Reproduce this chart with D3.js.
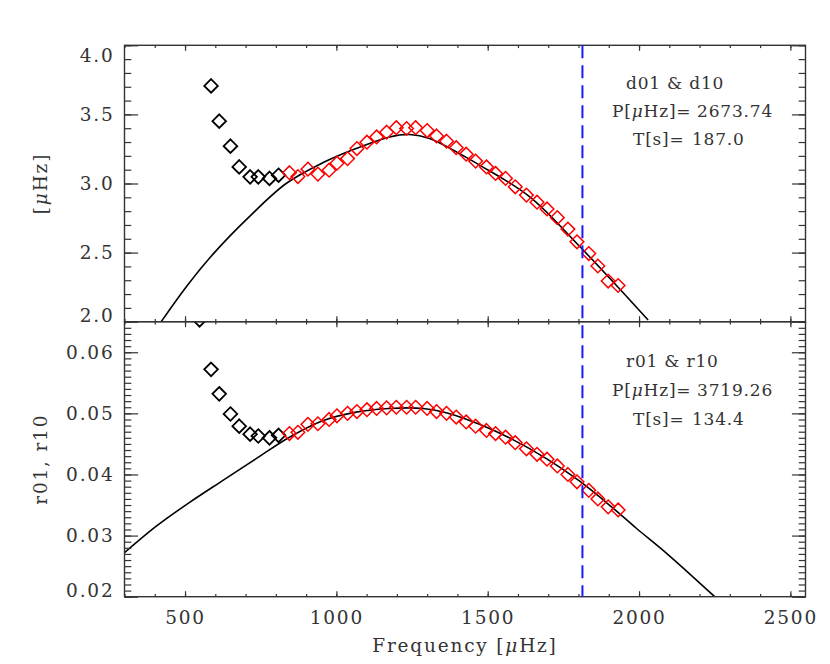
<!DOCTYPE html>
<html>
<head>
<meta charset="utf-8">
<script src="https://cdn.jsdelivr.net/npm/d3@7"></script>
<style>
  body { margin: 0; background: #fff; }
  text { font-family: "DejaVu Serif", serif; fill: #333; font-size: 18.5px; letter-spacing: 1.8px; }
  text.stat { font-size: 17px; letter-spacing: 0.8px; }
</style>
</head>
<body>
<div class="chart"></div>
<script>
// ---- data ----
// low-frequency points (black), shared by both panels
const blackFreq = [548, 586, 613, 650, 679, 715, 742, 779, 809];
const blackD = [null, 3.706, 3.451, 3.270, 3.120, 3.048, 3.048, 3.037, 3.060];
const blackR = [0.0653, 0.0572, 0.0532, 0.0499, 0.0479, 0.0466, 0.0463, 0.0460, 0.0464];

// fitted points (red)
const redFreq = [845, 873, 906, 939, 976, 1002, 1037, 1068, 1101, 1133, 1166, 1198, 1232, 1262, 1300, 1331, 1364,
  1396, 1429, 1460, 1496, 1526, 1559, 1591, 1628, 1663, 1696, 1730, 1765, 1795, 1834, 1864, 1898, 1931];
const redD = [3.078, 3.050, 3.104, 3.068, 3.096, 3.147, 3.180, 3.253, 3.299, 3.337, 3.371, 3.404, 3.398, 3.404,
  3.383, 3.344, 3.306, 3.259, 3.212, 3.162, 3.120, 3.073, 3.037, 2.976, 2.916, 2.865, 2.816, 2.753, 2.670, 2.578,
  2.493, 2.403, 2.294, 2.262];
const redR = [0.0467, 0.0469, 0.0482, 0.0483, 0.0490, 0.0496, 0.0500, 0.0503, 0.0506, 0.0508, 0.0509, 0.0510,
  0.0510, 0.0510, 0.0508, 0.0503, 0.0500, 0.0494, 0.0486, 0.0479, 0.0472, 0.0467, 0.0461, 0.0452, 0.0442, 0.0433,
  0.0425, 0.0414, 0.0400, 0.0388, 0.0374, 0.0360, 0.0347, 0.0342];

// fit curves (read at a few frequencies)
const fitFreqD = [421, 510, 597, 710, 834, 955, 1065, 1176, 1242, 1308, 1473, 1639, 1805, 1914, 2030];
const fitD = [2.0, 2.27, 2.5, 2.755, 3.0, 3.15, 3.253, 3.337, 3.355, 3.326, 3.133, 2.904, 2.542, 2.289, 2.012];
const fitFreqR = [300, 404, 514, 624, 735, 845, 955, 1065, 1176, 1286, 1363, 1473, 1583, 1694, 1804, 1914, 1991, 2091, 2250];
const fitR = [0.0272, 0.0315, 0.0354, 0.0390, 0.0426, 0.0461, 0.0488, 0.0502, 0.0508, 0.0508, 0.0501, 0.0482,
  0.0457, 0.0426, 0.0389, 0.0345, 0.0312, 0.0271, 0.0200];

const cutFreq = 1813;

const xTicks = [500, 1000, 1500, 2000, 2500];
const dTicks = [2.0, 2.5, 3.0, 3.5, 4.0];
const rTicks = [0.02, 0.03, 0.04, 0.05, 0.06];

const statNames = ["d01 & d10", "r01 & r10"];
const periods = ["2673.74", "3719.26"];
const taus = ["187.0", "134.4"];

// ---- layout ----
const width = 830, height = 664;
const left = 124.5, right = 805.5;
const panels = [
  { top: 45.3, bottom: 321.7, domain: [2.0, 4.0], ticks: dTicks, minorStep: 0.1, fmt: d3.format(".1f"),
    bf: blackD, rf: redD, fx: fitFreqD, fy: fitD, ylab: "[μHz]", stat: 0, textY: [89, 117, 145] },
  { top: 321.7, bottom: 596.7, domain: [0.02, 0.065], ticks: rTicks, minorStep: 0.001, fmt: d3.format(".2f"),
    bf: blackR, rf: redR, fx: fitFreqR, fy: fitR, ylab: "r01, r10", stat: 1, textY: [367, 396, 425] }
];

const svg = d3.select(".chart").append("svg").attr("width", width).attr("height", height);

const x = d3.scaleLinear().domain([300, 2550]).range([left, right]);
const xMinor = d3.range(300, 2551, 100);

// writes text with an italic mu
function richText(sel, str) {
  str.split(/(μ)/).forEach((part) => {
    if (!part) return;
    const t = sel.append("tspan").text(part);
    if (part === "μ") t.style("font-style", "italic");
  });
}

const diamond = d3.symbol().type(d3.symbolDiamond2).size(118);

panels.forEach((p, i) => {
  const y = d3.scaleLinear().domain(p.domain).range([p.bottom, p.top]);
  const ph = p.bottom - p.top;
  const pw = right - left;
  const yMinor = d3.range(p.domain[0], p.domain[1] + p.minorStep / 2, p.minorStep);

  const g = svg.append("g");

  const clipId = "clip" + i;
  svg.append("clipPath").attr("id", clipId)
    .append("rect").attr("x", left).attr("y", p.top).attr("width", pw).attr("height", ph);

  const plot = g.append("g").attr("clip-path", `url(#${clipId})`);

  // fit curve
  const line = d3.line().x((d) => x(d[0])).y((d) => y(d[1])).curve(d3.curveCatmullRom.alpha(0.5));
  plot.append("path")
    .datum(d3.zip(p.fx, p.fy))
    .attr("d", line)
    .attr("fill", "none")
    .attr("stroke", "#000")
    .attr("stroke-width", 1.6);

  // black diamonds
  plot.selectAll(".blk")
    .data(d3.zip(blackFreq, p.bf).filter((d) => d[1] != null))
    .enter()
    .append("path")
    .attr("transform", (d) => `translate(${x(d[0])},${y(d[1])})`)
    .attr("d", diamond)
    .attr("fill", "none")
    .attr("stroke", "#000")
    .attr("stroke-width", 1.8);

  // red diamonds
  plot.selectAll(".red")
    .data(d3.zip(redFreq, p.rf))
    .enter()
    .append("path")
    .attr("transform", (d) => `translate(${x(d[0])},${y(d[1])})`)
    .attr("d", diamond)
    .attr("fill", "none")
    .attr("stroke", "#ff0000")
    .attr("stroke-width", 1.5);

  // axes (ticks point inward)
  const yMaj = 13.6, yMin = 6.8;
  const xMaj = 5.5, xMin = 2.8;

  const leftAx = g.append("g").attr("transform", `translate(${left},0)`)
    .call(d3.axisLeft(y).tickValues(p.ticks).tickFormat(p.fmt).tickSize(-yMaj).tickPadding(10));
  g.append("g").attr("transform", `translate(${left},0)`)
    .call(d3.axisLeft(y).tickValues(yMinor).tickFormat("").tickSize(-yMin));
  g.append("g").attr("transform", `translate(${right},0)`)
    .call(d3.axisRight(y).tickValues(p.ticks).tickFormat("").tickSize(-yMaj));
  g.append("g").attr("transform", `translate(${right},0)`)
    .call(d3.axisRight(y).tickValues(yMinor).tickFormat("").tickSize(-yMin));

  g.append("g").attr("transform", `translate(0,${p.top})`)
    .call(d3.axisTop(x).tickValues(xTicks).tickFormat("").tickSize(-xMaj));
  g.append("g").attr("transform", `translate(0,${p.top})`)
    .call(d3.axisTop(x).tickValues(xMinor).tickFormat("").tickSize(-xMin));
  g.append("g").attr("transform", `translate(0,${p.bottom})`)
    .call(d3.axisBottom(x).tickValues(xTicks).tickFormat(i === 1 ? d3.format("d") : "").tickSize(-xMaj).tickPadding(14));
  g.append("g").attr("transform", `translate(0,${p.bottom})`)
    .call(d3.axisBottom(x).tickValues(xMinor).tickFormat("").tickSize(-xMin));

  g.selectAll(".domain").remove();
  g.selectAll(".tick line").attr("stroke", "#333").attr("stroke-width", 1.2);
  g.selectAll(".tick text").attr("font-family", null).attr("font-size", null).style("fill", "#333");

  // keep the end labels inside the panel
  leftAx.selectAll(".tick text").attr("dy", (d) => {
    const c = y(d);
    const cc = Math.max(p.top + 10, Math.min(p.bottom - 6, c));
    return (cc - c + 6) + "px";
  });

  // frame
  g.append("rect")
    .attr("x", left).attr("y", p.top).attr("width", pw).attr("height", ph)
    .attr("fill", "none").attr("stroke", "#333").attr("stroke-width", 1.4);

  // y label
  const yl = svg.append("text")
    .attr("transform", `translate(47,${(p.top + p.bottom) / 2}) rotate(-90)`)
    .attr("text-anchor", "middle");
  richText(yl, p.ylab);

  // stats block: name, then label/value pairs
  const ty = p.textY;
  const name = svg.append("text").attr("class", "stat").attr("x", 626).attr("y", ty[0]);
  richText(name, statNames[p.stat]);

  // [label, value, label x, value x, value anchor]
  const pairs = [["P[μHz]=", periods[p.stat], 612, 773, "end"], ["T[s]=", taus[p.stat], 633, 692, "start"]];
  pairs.forEach((pr, k) => {
    const a = svg.append("text").attr("class", "stat").attr("x", pr[2]).attr("y", ty[k + 1]);
    richText(a, pr[0]);
    svg.append("text").attr("class", "stat")
      .attr("x", pr[3]).attr("y", ty[k + 1])
      .attr("text-anchor", pr[4])
      .text(pr[1]);
  });
});

// vertical dashed marker across both panels
svg.append("line")
  .attr("x1", x(cutFreq)).attr("x2", x(cutFreq))
  .attr("y1", panels[0].top).attr("y2", panels[1].bottom)
  .attr("stroke", "#1a1aff")
  .attr("stroke-width", 2)
  .attr("stroke-dasharray", "13,7");

// x label
const xl = svg.append("text")
  .attr("x", (left + right) / 2).attr("y", 652)
  .attr("text-anchor", "middle");
richText(xl, "Frequency [μHz]");
</script>
</body>
</html>
